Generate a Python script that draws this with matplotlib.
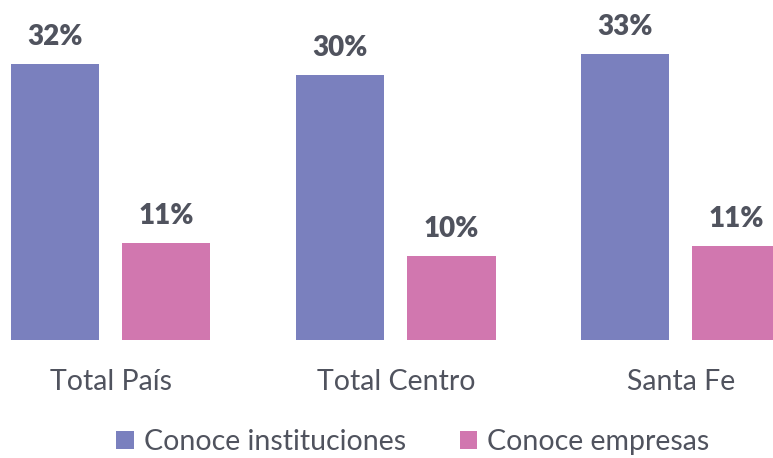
import matplotlib.pyplot as plt
import numpy as np

categories = ['Total País', 'Total Centro', 'Santa Fe']
instituciones = [31.7, 30.5, 32.9]
empresas = [11.1, 9.7, 10.8]
series_names = ['Conoce instituciones', 'Conoce empresas']
colors = ['#7A80BE', '#D177AF']
text_color = '#50535E'

plt.rcParams['font.family'] = ['Lato', 'DejaVu Sans']

fig = plt.figure(figsize=(7.73, 4.58), dpi=100)
ax = fig.add_axes([0, 0.2576, 1, 0.7424])

x = np.arange(len(categories))
w = 0.309
off = 0.195
b1 = ax.bar(x - off, instituciones, w, color=colors[0], label=series_names[0])
b2 = ax.bar(x + off, empresas, w, color=colors[1], label=series_names[1])

for bars, vals in [(b1, instituciones), (b2, empresas)]:
    for bar, v in zip(bars, vals):
        ax.annotate(f'{round(v):d}%', (bar.get_x() + bar.get_width() / 2, v),
                    xytext=(0, 19.5), textcoords='offset points', ha='center', va='center',
                    fontsize=20, fontweight='heavy', color=text_color)

ax.set_xlim(-0.389, 2.323)
ax.set_ylim(0, 39.08)
ax.set_xticks(x)
ax.set_xticklabels(categories, fontsize=20.5, color=text_color)
ax.tick_params(axis='x', length=0, pad=21)
ax.set_yticks([])
for s in ax.spines.values():
    s.set_visible(False)

fig.legend(handles=[b1, b2], loc='center', bbox_to_anchor=(0.534, 0.035), ncol=2,
           frameon=False, fontsize=20.5, labelcolor=text_color, handlelength=0.6,
           handleheight=0.6, handletextpad=0.35, columnspacing=1.9)

fig.savefig('out.png', dpi=100)
